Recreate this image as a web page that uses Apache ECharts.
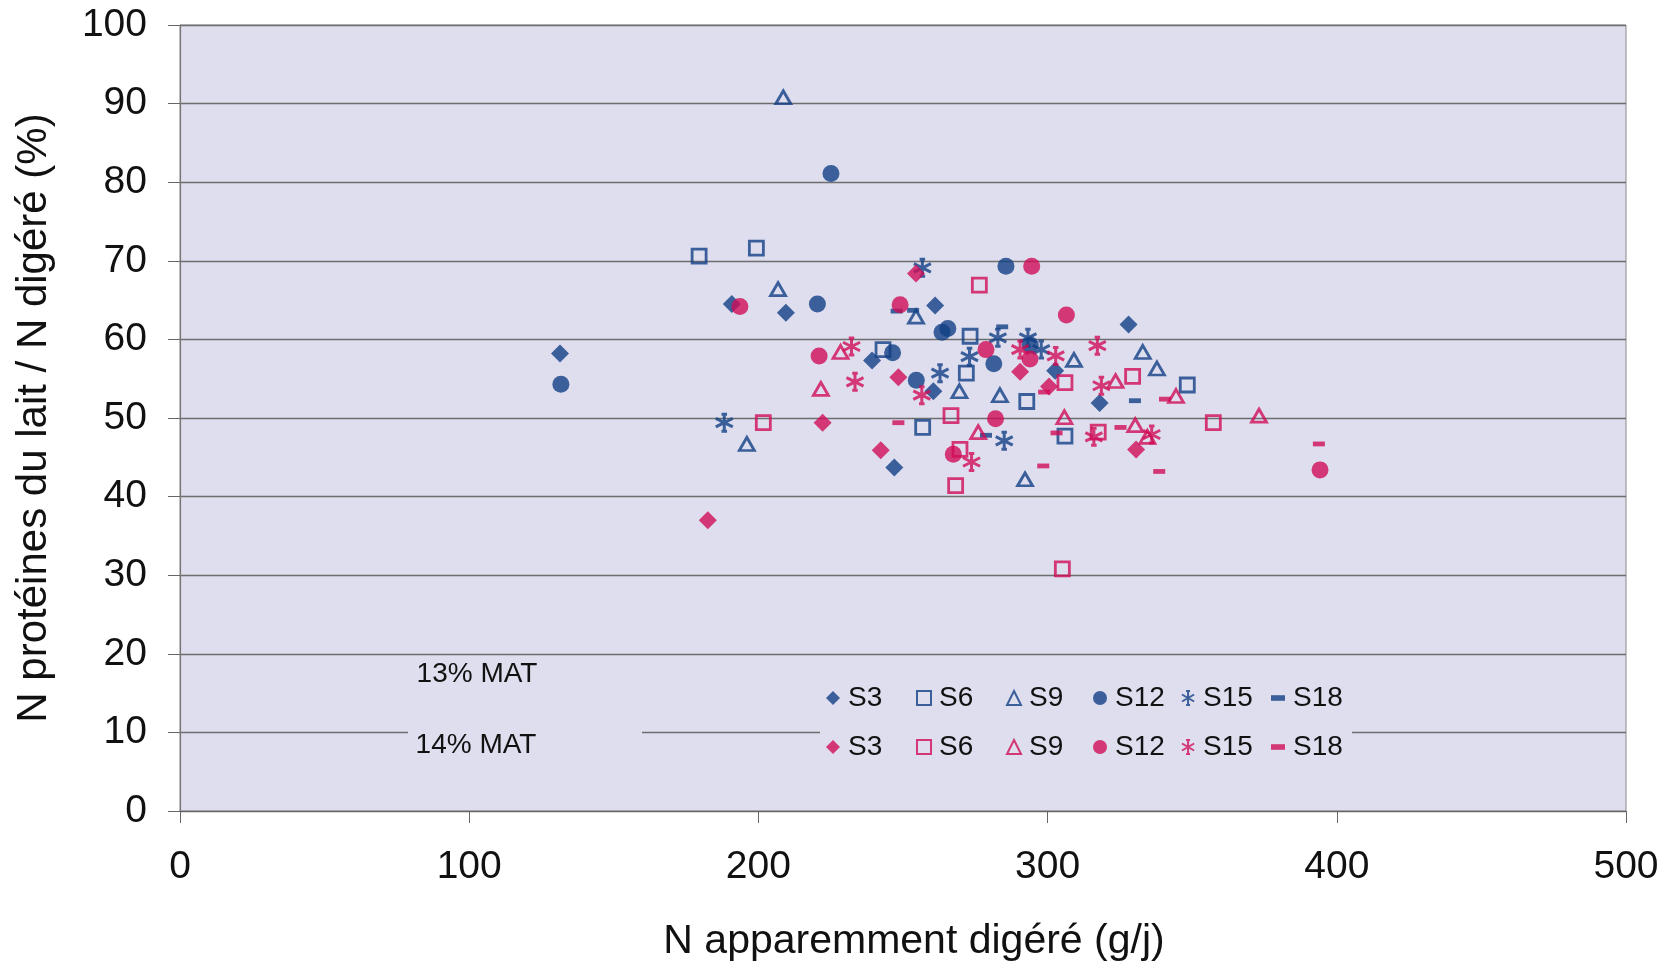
<!DOCTYPE html>
<html>
<head>
<meta charset="utf-8">
<title>N protéines du lait / N digéré</title>
<script src="https://cdn.jsdelivr.net/npm/echarts@6/dist/echarts.min.js"></script>
<style>
  html, body { margin: 0; padding: 0; background: #fff; }
  #chart { width: 1670px; height: 967px; }
</style>
</head>
<body>
<div id="chart"></div>
<script>
// valeurs : [N digéré (g/j), N lait / N digéré (%)]
// 13% MAT
const s3_13 = [[131.4, 58.2], [190.8, 64.5], [209.5, 63.4], [239.3, 57.3], [261.1, 64.3], [328.0, 61.9], [302.6, 56.0], [260.5, 53.4], [318.0, 51.9], [247.0, 43.7]];
const s6_13 = [[179.5, 70.6], [199.3, 71.6], [243.1, 58.7], [273.2, 60.4], [271.9, 55.7], [292.8, 52.1], [348.3, 54.2], [256.8, 48.8], [306.0, 47.7]];
const s9_13 = [[208.6, 90.8], [206.8, 66.4], [196.0, 46.7], [254.5, 62.9], [309.1, 57.4], [332.9, 58.4], [337.8, 56.3], [269.5, 53.4], [283.5, 52.9], [292.2, 42.2]];
const s12_13 = [[131.7, 54.3], [225.1, 81.1], [220.4, 64.5], [246.4, 58.3], [263.5, 60.9], [265.5, 61.4], [285.6, 69.3], [294.0, 59.3], [281.4, 56.9], [254.6, 54.8]];
const s15_13 = [[188.2, 49.4], [256.7, 69.1], [282.8, 60.2], [293.2, 60.2], [297.8, 58.7], [273.0, 57.8], [262.8, 55.7], [285.0, 47.1]];
const s18_13 = [[247.8, 63.6], [253.5, 63.7], [284.3, 61.6], [330.2, 52.2], [278.7, 47.8]];
// 14% MAT
const s3_14 = [[182.5, 37.0], [222.2, 49.4], [242.3, 45.9], [248.4, 55.2], [254.5, 68.4], [290.5, 55.9], [300.5, 54.0], [330.6, 46.0]];
const s6_14 = [[201.7, 49.4], [276.4, 66.9], [306.0, 54.5], [329.4, 55.3], [266.6, 50.3], [269.7, 46.0], [268.2, 41.4], [317.5, 48.2], [357.3, 49.4], [305.1, 30.8]];
const s9_14 = [[228.4, 58.4], [221.6, 53.7], [323.5, 54.7], [344.4, 52.8], [276.0, 48.2], [305.8, 50.1], [330.3, 49.1], [334.5, 47.6], [373.1, 50.3]];
const s12_14 = [[193.6, 64.2], [249.0, 64.4], [221.0, 57.9], [294.5, 69.3], [306.5, 63.1], [278.7, 58.7], [293.9, 57.5], [282.0, 49.9], [267.4, 45.4], [394.2, 43.4]];
const s15_14 = [[232.2, 59.1], [233.4, 54.6], [256.5, 52.9], [290.5, 58.7], [302.8, 57.9], [317.2, 59.2], [318.6, 54.1], [316.0, 47.6], [336.0, 47.9], [273.7, 44.4]];
const s18_14 = [[248.4, 49.4], [298.8, 53.3], [303.1, 48.1], [325.2, 48.8], [340.6, 52.4], [298.5, 43.9], [338.6, 43.2], [393.8, 46.7]];

const semaines = ['S3', 'S6', 'S9', 'S12', 'S15', 'S18'];
const groupes = ['13% MAT', '14% MAT'];
const xRange = [0, 500, 100];
const yRange = [0, 100, 10];

const BLUE = '#123f84';
const PINK = '#d00c56';
const PLOT_BG = '#dedeee';
const FONT = '"Liberation Sans", Arial, sans-serif';

// asterisque type Excel
const STAR = 'path://M5,0V10M0.67,2.5L9.33,7.5M0.67,7.5L9.33,2.5M3.6,0H6.4M3.6,10H6.4';
const DASH = 'path://M0,0H10V4H0Z';

function serie(name, data, week, color) {
  const s = { name: name, type: 'scatter', data: data, z: 3 };
  if (week === 'S3') {
    s.symbol = 'diamond'; s.symbolSize = 18;
    s.itemStyle = { color: color };
  } else if (week === 'S6') {
    s.symbol = 'rect'; s.symbolSize = 14;
    s.itemStyle = { color: 'rgba(0,0,0,0)', borderColor: color, borderWidth: 2.8 };
  } else if (week === 'S9') {
    s.symbol = 'triangle'; s.symbolSize = [15, 13];
    s.itemStyle = { color: 'rgba(0,0,0,0)', borderColor: color, borderWidth: 2.8 };
  } else if (week === 'S12') {
    s.symbol = 'circle'; s.symbolSize = 17;
    s.itemStyle = { color: color };
  } else if (week === 'S15') {
    s.symbol = STAR; s.symbolSize = 17;
    s.itemStyle = { color: color, borderColor: color, borderWidth: 3 };
  } else {
    s.symbol = DASH; s.symbolSize = 12; s.symbolKeepAspect = true;
    s.itemStyle = { color: color };
  }
  return s;
}

const data13 = [s3_13, s6_13, s9_13, s12_13, s15_13, s18_13];
const data14 = [s3_14, s6_14, s9_14, s12_14, s15_14, s18_14];
const names13 = semaines.map(w => w + ' ' + groupes[0]);
const names14 = semaines.map(w => w + ' ' + groupes[1]);

const series = [];
semaines.forEach((w, i) => series.push(serie(names13[i], data13[i], w, BLUE)));
semaines.forEach((w, i) => series.push(serie(names14[i], data14[i], w, PINK)));

// une légende par entrée, pour garder un pas régulier comme dans l'original
const legendLeft = [821, 911, 1001, 1088, 1176, 1266];
const legendTop = [679, 728];
function legendItem(name, left, top) {
  return {
    left: left, top: top,
    itemWidth: 14, itemHeight: 14,
    selectedMode: false,
    data: [name],
    formatter: n => n.split(' ')[0],
    textStyle: { fontFamily: FONT, fontSize: 28, color: '#111', padding: [0, 0, 0, 3] }
  };
}
const legends = [];
semaines.forEach((w, i) => {
  legends.push(legendItem(names13[i], legendLeft[i], legendTop[0]));
  legends.push(legendItem(names14[i], legendLeft[i], legendTop[1]));
});

const chart = echarts.init(document.getElementById('chart'));
chart.setOption({
  backgroundColor: '#fff',
  animation: false,
  grid: {
    left: 180, right: 44, top: 25, bottom: 154,
    show: true, backgroundColor: PLOT_BG, borderColor: '#8a8a8a', borderWidth: 1
  },
  xAxis: {
    type: 'value',
    min: xRange[0], max: xRange[1], interval: xRange[2],
    name: 'N apparemment digéré (g/j)',
    nameLocation: 'middle',
    nameGap: 110,
    nameTextStyle: { fontFamily: FONT, fontSize: 41, color: '#111', padding: [0, 0, 0, 22] },
    axisLine: { show: true, lineStyle: { color: '#666', width: 1.2 } },
    axisTick: { show: true, length: 12, lineStyle: { color: '#666' } },
    axisLabel: { margin: 37, fontFamily: FONT, fontSize: 39, color: '#111' },
    splitLine: { show: false }
  },
  yAxis: {
    type: 'value',
    min: yRange[0], max: yRange[1], interval: yRange[2],
    name: 'N protéines du lait / N digéré (%)',
    nameLocation: 'middle',
    nameGap: 125,
    nameTextStyle: { fontFamily: FONT, fontSize: 42, color: '#111' },
    axisLine: { show: true, lineStyle: { color: '#777', width: 1.2 } },
    axisTick: { show: true, length: 12, lineStyle: { color: '#666' } },
    axisLabel: { margin: 33, fontFamily: FONT, fontSize: 39, color: '#111' },
    splitLine: { show: true, lineStyle: { color: '#6e6e6e', width: 1.3 } }
  },
  legend: legends,
  graphic: [
    { type: 'rect', z: 1, shape: { x: 820, y: 729, width: 532, height: 11 }, style: { fill: PLOT_BG } },
    { type: 'rect', z: 1, shape: { x: 408, y: 729, width: 234, height: 11 }, style: { fill: PLOT_BG } },
    { type: 'text', z: 5, x: 477, y: 674,
      style: { text: groupes[0], font: '28px ' + FONT, fill: '#111', align: 'center', verticalAlign: 'middle' } },
    { type: 'text', z: 5, x: 476, y: 745,
      style: { text: groupes[1], font: '28px ' + FONT, fill: '#111', align: 'center', verticalAlign: 'middle' } }
  ],
  series: series
});
</script>
</body>
</html>
